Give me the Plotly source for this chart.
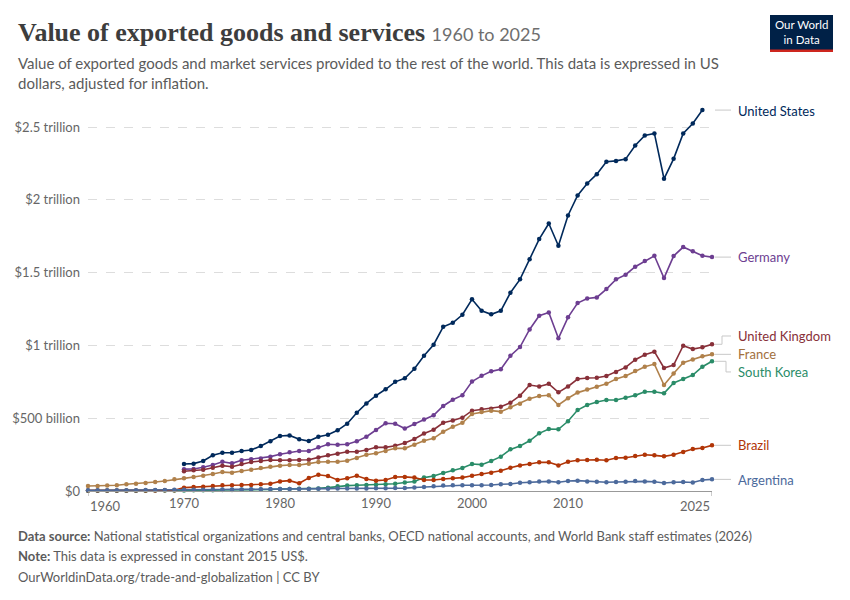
import plotly.graph_objects as go

# values in billions of constant 2015 US$
years = list(range(1960, 2026))

us_years = list(range(1970, 2025))
us = [185, 188, 206, 245, 263, 263, 275, 282, 309, 341,
      378, 382, 355, 343, 373, 387, 417, 462, 538, 602,
      655, 699, 750, 774, 840, 929, 1005, 1128, 1156, 1211,
      1317, 1238, 1214, 1238, 1362, 1454, 1593, 1731, 1838, 1685,
      1893, 2031, 2113, 2177, 2262, 2268, 2280, 2374, 2443, 2457,
      2145, 2282, 2457, 2525, 2617]

de_years = list(range(1970, 2026))
germany = [150, 151, 163, 179, 201, 190, 211, 218, 224, 236,
           252, 266, 275, 275, 300, 321, 318, 321, 341, 373,
           419, 465, 462, 429, 460, 492, 520, 584, 627, 658,
           752, 791, 822, 836, 929, 989, 1110, 1204, 1227, 1049,
           1193, 1291, 1323, 1330, 1387, 1454, 1486, 1541, 1580, 1616,
           1463, 1614, 1676, 1648, 1616, 1607]

uk_years = list(range(1970, 2026))
uk = [136, 142, 146, 160, 174, 167, 185, 199, 206, 213,
      211, 211, 213, 215, 231, 245, 256, 270, 270, 282,
      300, 300, 311, 330, 357, 395, 421, 469, 485, 504,
      552, 561, 565, 579, 607, 655, 728, 718, 736, 678,
      718, 769, 776, 778, 790, 817, 849, 902, 936, 957,
      845, 865, 998, 975, 987, 1008]

france = [34, 34, 37, 39, 46, 50, 55, 62, 69, 80,
          87, 96, 105, 117, 130, 126, 137, 146, 158, 167,
          174, 179, 179, 188, 199, 201, 201, 208, 227, 249,
          259, 275, 293, 293, 318, 345, 362, 407, 442, 469,
          529, 543, 552, 545, 575, 600, 634, 653, 658, 591,
          637, 676, 698, 716, 736, 769, 790, 824, 854, 872,
          728, 808, 881, 904, 925, 939]

korea = [1, 1, 1, 1, 2, 2, 2, 3, 3, 4,
         4, 5, 5, 6, 7, 7, 8, 9, 10, 10,
         14, 14, 16, 16, 18, 23, 32, 37, 39, 41,
         43, 46, 50, 58, 65, 92, 103, 124, 142, 158,
         185, 181, 206, 236, 286, 309, 345, 396, 426, 424,
         479, 556, 591, 611, 625, 625, 641, 657, 682, 682,
         671, 742, 769, 797, 854, 891]

brazil = [4, 4, 4, 4, 4, 4, 4, 4, 5, 5,
          23, 27, 29, 34, 39, 40, 41, 41, 46, 50,
          66, 71, 53, 90, 112, 103, 76, 87, 105, 82,
          71, 76, 96, 97, 92, 76, 76, 82, 87, 92,
          105, 117, 126, 139, 160, 176, 185, 197, 197, 176,
          201, 211, 213, 215, 211, 227, 229, 240, 249, 245,
          238, 249, 268, 288, 295, 314]

argentina = [5, 5, 5, 6, 6, 6, 7, 7, 7, 8,
             8, 9, 9, 10, 10, 11, 11, 12, 12, 13,
             13, 13, 14, 14, 15, 16, 17, 17, 18, 18,
             19, 19, 20, 20, 24, 27, 32, 37, 39, 39,
             39, 39, 41, 46, 48, 57, 60, 66, 66, 60,
             69, 71, 66, 64, 60, 62, 64, 68, 66, 64,
             55, 60, 62, 58, 76, 80]

ytick_vals = [0, 500, 1000, 1500, 2000, 2500]
ytick_text = ["$0", "$500 billion", "$1 trillion", "$1.5 trillion", "$2 trillion", "$2.5 trillion"]
xtick_vals = [1970, 1980, 1990, 2000, 2010]

# name, x, y, line colour, label colour, label y (billions)
series = [
    ("United States", us_years, us, "#00295B", "#00295B", 2610),
    ("Germany", de_years, germany, "#6D3E91", "#6D3E91", 1607),
    ("United Kingdom", uk_years, uk, "#883039", "#883039", 1065),
    ("France", years, france, "#B0814B", "#A2703D", 941),
    ("South Korea", years, korea, "#2A8C68", "#2A8C68", 818),
    ("Brazil", years, brazil, "#B13507", "#B13507", 314),
    ("Argentina", years, argentina, "#4C6A9C", "#4C6A9C", 78),
]

W, H = 850, 600
L, R, T, B = 88, 138, 105, 109
PW, PH = W - L - R, H - T - B


def px(x):
    return (x - L) / PW


def py(y):
    return (H - B - y) / PH


fig = go.Figure()
for name, xs, ys, col, lcol, ly in series:
    fig.add_trace(go.Scatter(x=xs, y=ys, mode="lines+markers", name=name,
                             line=dict(color=col, width=1.6),
                             marker=dict(color=col, size=4.5),
                             cliponaxis=False, showlegend=False))

ann = []
shapes = []
for name, xs, ys, col, lcol, ly in series:
    ann.append(dict(x=px(736), xref="paper", y=ly, yref="y", text=name,
                    showarrow=False, xanchor="left", yanchor="middle",
                    font=dict(family="Lato", size=13, color=lcol)))
    end = ys[-1]
    if abs(ly - end) < 15:
        shapes.append(dict(type="line", xref="paper", yref="y", x0=px(715), x1=px(731),
                           y0=end, y1=end, line=dict(color="#c8c8c8", width=1)))
    else:
        xe = 722 if ly > end else 726
        for a, b, c, d in [(715, xe, end, end), (xe, xe, end, ly), (xe, 731, ly, ly)]:
            shapes.append(dict(type="line", xref="paper", yref="y", x0=px(a), x1=px(b),
                               y0=c, y1=d, line=dict(color="#c8c8c8", width=1)))

# x tick marks at the two ends and their labels
for yr, anchor in [(1960, "left"), (2025, "right")]:
    shapes.append(dict(type="line", xref="x", yref="paper", x0=yr, x1=yr,
                       y0=0, y1=py(496), line=dict(color="#999999", width=1)))
    ann.append(dict(x=yr, xref="x", y=py(506), yref="paper", text=str(yr),
                    showarrow=False, xanchor=anchor, yanchor="middle",
                    font=dict(family="Lato", size=13, color="#666666")))

# title block
ann.append(dict(x=px(16), y=py(32), xref="paper", yref="paper", xanchor="left", yanchor="middle",
                showarrow=False,
                text="<b>Value of exported goods and services</b> "
                     "<span style='font-family:Lato;font-size:18px;color:#6e6e6e'>1960 to 2025</span>",
                font=dict(family="Liberation Serif", size=26, color="#3d3d3d")))
ann.append(dict(x=px(16), y=py(52), xref="paper", yref="paper", xanchor="left", yanchor="top",
                showarrow=False, align="left",
                text="Value of exported goods and market services provided to the rest of the world. "
                     "This data is expressed in US<br>dollars, adjusted for inflation.",
                font=dict(family="Lato", size=15, color="#5b5b5b")))

# logo
shapes.append(dict(type="rect", xref="paper", yref="paper", x0=px(770), x1=px(833),
                   y0=py(52), y1=py(15), fillcolor="#002147", line=dict(width=0)))
shapes.append(dict(type="rect", xref="paper", yref="paper", x0=px(770), x1=px(833),
                   y0=py(52), y1=py(49.5), fillcolor="#CE261E", line=dict(width=0)))
ann.append(dict(x=px(801.5), y=py(32), xref="paper", yref="paper", xanchor="center", yanchor="middle",
                showarrow=False, text="Our World<br>in Data",
                font=dict(family="Lato", size=11.5, color="white")))

# footer
foot = [
    (536, "<b>Data source:</b> National statistical organizations and central banks, OECD national accounts, "
          "and World Bank staff estimates (2026)"),
    (556, "<b>Note:</b> This data is expressed in constant 2015 US$."),
    (577, "OurWorldinData.org/trade-and-globalization | CC BY"),
]
for yy, txt in foot:
    ann.append(dict(x=px(16), y=py(yy), xref="paper", yref="paper", xanchor="left", yanchor="middle",
                    showarrow=False, text=txt,
                    font=dict(family="Lato", size=13, color="#5b5b5b")))

fig.update_layout(
    width=W, height=H,
    margin=dict(l=L, r=R, t=T, b=B),
    paper_bgcolor="white", plot_bgcolor="white",
    annotations=ann, shapes=shapes,
    font=dict(family="Lato", color="#666666"),
)
fig.update_xaxes(range=[1960, 2025], tickvals=xtick_vals, showgrid=False, zeroline=False,
                 showline=True, linecolor="#999999", linewidth=1, ticks="",
                 tickfont=dict(family="Lato", size=13, color="#666666"))
fig.update_yaxes(range=[0, 2652], tickvals=ytick_vals, ticktext=ytick_text,
                 showgrid=True, gridcolor="#dddddd", griddash="dash", gridwidth=1,
                 zeroline=False, ticks="", ticklabelstandoff=7,
                 tickfont=dict(family="Lato", size=13, color="#666666"))

# page has a default 8px body margin; drop it so the figure sits at the window corner
fig.write_html("out.html", config={"displayModeBar": False},
               post_script="document.body.style.margin='0px';")
